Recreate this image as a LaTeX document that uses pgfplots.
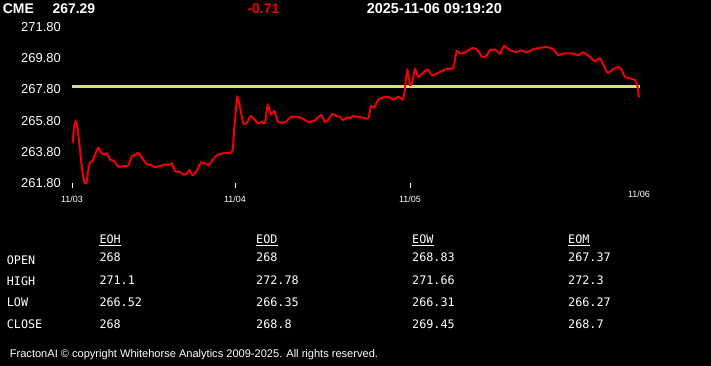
\documentclass[border=0pt]{standalone}
\usepackage{fontspec}
\setmainfont{Liberation Sans}
\newfontfamily\monofont{DejaVu Sans Mono}
\usepackage{pgfplots}
\pgfplotsset{compat=1.18}
\definecolor{refline}{RGB}{214,224,120}
\definecolor{pxred}{RGB}{240,0,0}
\pgfplotstableread{
x y
0.5 264.35
2 265.33
3.8 265.78
5.5 265.33
8 263.93
10.5 262.52
12.5 261.84
14.5 261.84
16 262.52
18 263.12
20.5 263.22
23 263.61
26.3 264.07
29.7 263.72
32 263.64
34.7 263.72
38 263.33
42.3 263.22
46.3 262.86
51.3 262.90
56.3 262.94
59.7 263.50
63 263.61
66.3 263.75
70.3 263.40
74.7 263.03
79 262.97
82.3 262.84
88 262.90
93 263.00
97 262.97
99.7 263.08
103 262.59
108 262.52
111.3 262.36
114.7 262.39
117.3 262.65
120.7 262.32
124.7 262.59
129 263.12
133 263.08
137 262.97
141.3 263.35
146.3 263.65
151.3 263.72
158 263.75
160.7 263.93
162.5 265.52
165.3 267.33
168 266.69
171.3 265.63
174.7 265.67
178.7 266.10
183 265.84
186.3 265.63
189.7 265.73
193 265.67
195.7 266.80
199 266.21
202.3 266.42
206.3 265.73
211.3 265.67
214.7 265.78
219 266.05
224.7 266.05
230.3 265.95
236.3 265.73
242.3 265.80
249 266.16
253 265.73
256 265.84
260.3 266.23
264.7 266.10
268 266.05
271.3 265.84
274.7 266.01
278 265.97
281.3 266.10
286.3 266.05
291.3 265.99
296.3 265.95
299 266.74
302.3 266.65
306.3 267.16
311.3 267.29
316.3 267.33
321.3 267.16
326.3 267.33
330.7 267.16
332.3 267.55
335.3 269.04
338 268.08
340.3 268.27
343 269.10
346.3 268.61
351.3 268.89
355.7 269.08
359.7 268.72
363 268.75
368 268.93
373 269.08
378 269.14
381.3 269.18
384.7 270.25
388 270.10
393 270.17
396.3 270.31
401.3 270.46
405.7 270.31
410.3 269.88
414 269.93
418 270.31
423 270.36
428 270.10
432 270.59
436.3 270.38
441 270.25
444.7 270.20
449.7 270.31
454.7 270.17
461.3 270.38
468 270.46
474.7 270.52
481.3 270.38
486.3 269.99
491.3 270.10
501.3 270.10
506.3 269.99
511.3 270.17
518 269.88
523 269.61
528 269.78
535.3 268.89
540 269.04
546.3 269.25
549.7 269.04
553 268.61
558 268.51
563 268.40
565.3 268.08
567 267.29
}\pricedata
\pgfplotstableread{
x y
0 268.0
568 268.0
}\refdata
\begin{document}
\begin{tikzpicture}
\useasboundingbox (0,0) rectangle (711bp,-366bp);
\fill[black] (0,0) rectangle (711bp,-366bp);
\begin{axis}[
  at={(72bp,-183.3bp)}, anchor=south west,
  scale only axis, width=567bp, height=156.3bp,
  xmin=0, xmax=567, ymin=261.8, ymax=271.8,
  axis line style={draw=none},
  clip=false,
  xtick pos=lower, ytick pos=left,
  xtick={0,163,338}, xticklabels={11/03,11/04,11/05},
  extra x ticks={567}, extra x tick labels={11/06},
  extra x tick style={major tick length=0pt, xtick style={draw=none}},
  ytick={261.8,263.8,265.8,267.8,269.8,271.8},
  yticklabels={261.80,263.80,265.80,267.80,269.80,271.80},
  xtick style={white, line width=0.8bp},
  ytick style={draw=none},
  tick align=outside, major tick length=5bp,
  xticklabel style={font=\fontsize{9}{9}\selectfont, text=white, anchor=center, inner sep=0pt, yshift=-11bp},
  yticklabel style={font=\fontsize{13}{13}\selectfont, text=white, anchor=east, inner sep=0pt, xshift=-6bp},
]
\addplot[refline, line width=2.4bp] table {\refdata};
\addplot[pxred, line width=2bp, smooth, tension=0.35] table {\pricedata};
\end{axis}
% header
\node[anchor=west, inner sep=0pt, text=white, font=\fontsize{14}{14}\selectfont\bfseries] at (2.7bp,-8.3bp) {CME};
\node[anchor=west, inner sep=0pt, text=white, font=\fontsize{14}{14}\selectfont\bfseries] at (52.3bp,-8.3bp) {267.29};
\node[anchor=west, inner sep=0pt, text=pxred, font=\fontsize{14}{14}\selectfont\bfseries] at (247.3bp,-8.3bp) {-0.71};
\node[anchor=west, inner sep=0pt, text=white, font=\fontsize{14.5}{14.5}\selectfont\bfseries] at (366.7bp,-8.3bp) {2025-11-06 09:19:20};
% table
\begin{scope}[every node/.style={anchor=west, inner sep=0pt, text=white, font=\fontsize{11.8}{11.8}\selectfont\monofont}]
\node (h1) at (99.3bp,-239bp) {EOH};
\node (h2) at (256bp,-239bp) {EOD};
\node (h3) at (412bp,-239bp) {EOW};
\node (h4) at (568bp,-239bp) {EOM};
\node at (6.7bp,-260bp) {OPEN};
\node at (6.7bp,-281.5bp) {HIGH};
\node at (6.7bp,-302.5bp) {LOW};
\node at (6.7bp,-324.7bp) {CLOSE};
\node at (99.3bp,-257.5bp) {268};
\node at (99.3bp,-280.2bp) {271.1};
\node at (99.3bp,-302bp) {266.52};
\node at (99.3bp,-323.8bp) {268};
\node at (256bp,-257.5bp) {268};
\node at (256bp,-280.2bp) {272.78};
\node at (256bp,-302bp) {266.35};
\node at (256bp,-323.8bp) {268.8};
\node at (412bp,-257.5bp) {268.83};
\node at (412bp,-280.2bp) {271.66};
\node at (412bp,-302bp) {266.31};
\node at (412bp,-323.8bp) {269.45};
\node at (568bp,-257.5bp) {267.37};
\node at (568bp,-280.2bp) {272.3};
\node at (568bp,-302bp) {266.27};
\node at (568bp,-323.8bp) {268.7};
\end{scope}
\foreach \h in {h1,h2,h3,h4}{
  \draw[white, line width=0.8bp] ([yshift=-1.6bp]\h.south west) -- ([yshift=-1.6bp]\h.south east);
}
% footer
\node[anchor=west, inner sep=0pt, text=white, font=\fontsize{11.1}{11.1}\selectfont] at (9.7bp,-355bp) {FractonAI \textcopyright{} copyright Whitehorse Analytics 2009-2025. All rights reserved.};
\end{tikzpicture}
\end{document}
